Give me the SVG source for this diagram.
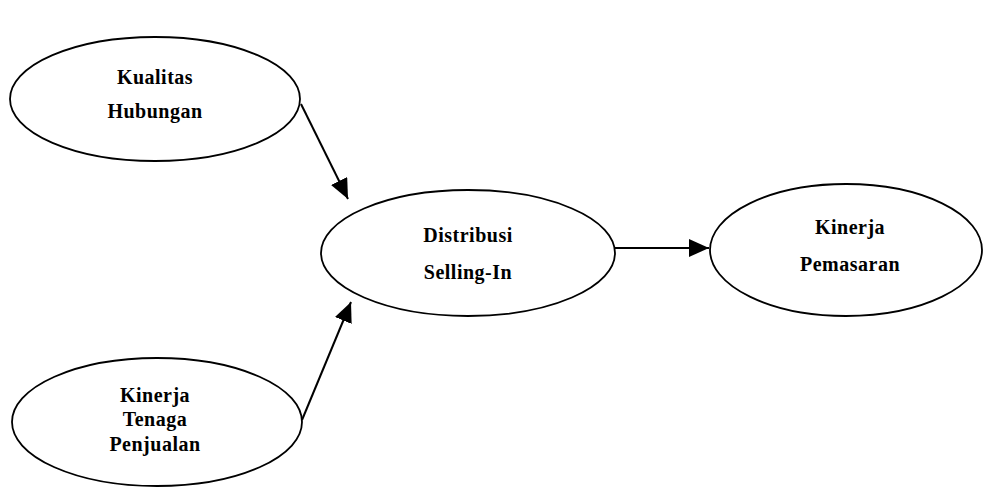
<svg xmlns="http://www.w3.org/2000/svg" width="985" height="490" viewBox="0 0 985 490">
<style>
.n{fill:#fff;stroke:#000;stroke-width:1.8}
.t{font-family:"Liberation Serif","Times New Roman",serif;font-weight:bold;font-size:20px;letter-spacing:0.5px;fill:#000;text-anchor:middle}
.c{stroke:#000;stroke-width:2;fill:none}
</style>
<defs>
<marker id="ah" viewBox="0 0 20 18" refX="20" refY="9" markerWidth="20" markerHeight="18" markerUnits="userSpaceOnUse" orient="auto">
<path d="M0,0 L20,9 L0,18 Z" fill="#000"/>
</marker>
</defs>
<rect width="985" height="490" fill="#fff"/>
<g id="connectors">
<line class="c" x1="301" y1="104" x2="348" y2="199" marker-end="url(#ah)"/>
<line class="c" x1="302" y1="420" x2="351" y2="302" marker-end="url(#ah)"/>
<line class="c" x1="615" y1="248" x2="709" y2="248" marker-end="url(#ah)"/>
</g>
<g id="kualitas">
<ellipse class="n" cx="155" cy="99" rx="145" ry="62"/>
<text class="t" x="155" y="84">Kualitas</text>
<text class="t" x="155" y="118">Hubungan</text>
</g>
<g id="kinerja-tenaga">
<ellipse class="n" cx="157" cy="422" rx="145" ry="64"/>
<text class="t" x="155" y="402">Kinerja</text>
<text class="t" x="155" y="426">Tenaga</text>
<text class="t" x="155" y="451">Penjualan</text>
</g>
<g id="distribusi">
<ellipse class="n" cx="468" cy="253" rx="147" ry="63"/>
<text class="t" x="468" y="242">Distribusi</text>
<text class="t" x="468" y="279">Selling-In</text>
</g>
<g id="pemasaran">
<ellipse class="n" cx="846" cy="250" rx="136" ry="66"/>
<text class="t" x="850" y="234">Kinerja</text>
<text class="t" x="850" y="271">Pemasaran</text>
</g>
</svg>
